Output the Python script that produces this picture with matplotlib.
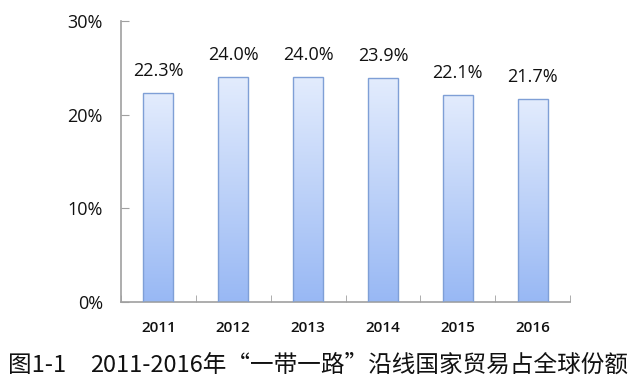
import matplotlib
matplotlib.use("Agg")
import matplotlib.pyplot as plt
import numpy as np
from matplotlib.colors import LinearSegmentedColormap

years = ["2011", "2012", "2013", "2014", "2015", "2016"]
shares = [22.3, 24.0, 24.0, 23.9, 22.1, 21.7]
value_labels = ["22.3%", "24.0%", "24.0%", "23.9%", "22.1%", "21.7%"]
yticks = [0, 10, 20, 30]
ytick_labels = ["0%", "10%", "20%", "30%"]
caption_num = "图1-1"
caption_text = "2011-2016年“一带一路”沿线国家贸易占全球份额"

fig = plt.figure(figsize=(6.4, 3.91), dpi=100)
ax = fig.add_axes([121/640, 1-302/391, (570-121)/640, (302-21)/391])

x = np.arange(len(years))
bars = ax.bar(x, shares, width=0.4, color="none", edgecolor="#7f9fd6", linewidth=1.0, zorder=3)

cmap = LinearSegmentedColormap.from_list("g", ["#98b8f4", "#e3ecfd"])
grad = np.linspace(0, 1, 256).reshape(-1, 1)
for b in bars:
    x0, w, h = b.get_x(), b.get_width(), b.get_height()
    im = ax.imshow(grad, cmap=cmap, extent=[x0, x0 + w, 0, h], origin="lower",
                   aspect="auto", zorder=2, interpolation="bicubic")
    im.set_clip_path(b)

ax.set_xlim(-0.5, len(years) - 0.5)
ax.set_ylim(0, 30)

for xi, v, lab in zip(x, shares, value_labels):
    ax.annotate(lab, (xi, v), xytext=(0, 16), textcoords="offset points",
                ha="center", va="center", fontsize=13, family="Open Sans", color="#111111")

ax.set_yticks(yticks)
ax.set_yticklabels(ytick_labels, family="Open Sans", fontsize=13)
ax.set_xticks(x)
ax.set_xticklabels(years, family="Open Sans", fontsize=11, fontweight="semibold")
ax.set_xticks(np.arange(-0.5, len(years)), minor=True)

ax.tick_params(axis="y", direction="in", length=6, color="#a0a0a0", pad=13, labelcolor="#111111")
ax.tick_params(axis="x", which="major", length=0, pad=14, labelcolor="#111111")
ax.tick_params(axis="x", which="minor", direction="in", length=5, color="#a0a0a0")

for s in ["top", "right"]:
    ax.spines[s].set_visible(False)
for s in ["left", "bottom"]:
    ax.spines[s].set_color("#a0a0a0")
    ax.spines[s].set_linewidth(1.2)

cjk = ["Noto Sans CJK SC", "DejaVu Sans"]
fig.text(8/640, 1-365/391, caption_num, ha="left", va="center", fontsize=17,
         family=cjk, color="#111111")
fig.text(90/640, 1-365/391, caption_text, ha="left", va="center", fontsize=17,
         family=cjk, color="#111111")

fig.savefig("out.png", dpi=100, facecolor="white")
